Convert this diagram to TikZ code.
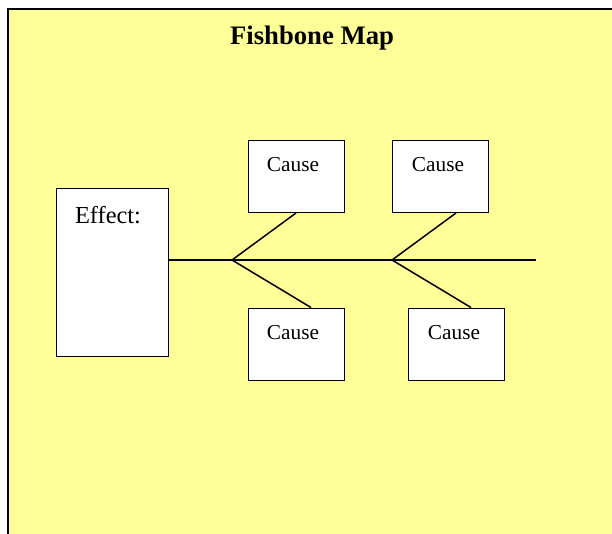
\documentclass[tikz,border=0pt]{standalone}
\usepackage{fontspec}
\setmainfont{Liberation Serif}
\definecolor{bgyellow}{HTML}{FFFF99}
\begin{document}
\begin{tikzpicture}[x=1pt,y=-1pt,
  box/.style={draw=black,fill=white,line width=1.5pt,inner sep=0pt,anchor=north west},
  bone/.style={draw=black,line width=1.5pt},
  lbl/.style={inner sep=0pt,font=\fontsize{21.3}{24}\selectfont}]
\useasboundingbox (0,0) rectangle (612,533);
\begin{scope}
\clip (0,0) rectangle (612,533);
\draw[fill=bgyellow,line width=2pt] (8,8.5) rectangle (630,560);
\end{scope}
\node[inner sep=0pt,font=\fontsize{26.7}{30}\selectfont\bfseries] (title) at (312,38.5) {Fishbone Map};
\node[box,minimum width=112pt,minimum height=168pt] (effect) at (55.5,187.5) {};
\node[inner sep=0pt,font=\fontsize{24.4}{28}\selectfont] (effectlbl) at (108,215) {Effect:};
\node[box,minimum width=96pt,minimum height=72pt] (c1) at (247.5,139.5) {};
\node[box,minimum width=96pt,minimum height=72pt] (c2) at (391.5,139.5) {};
\node[box,minimum width=96pt,minimum height=72pt] (c3) at (247.5,307.5) {};
\node[box,minimum width=96pt,minimum height=72pt] (c4) at (407.5,307.5) {};
\node[lbl] (l1) at (293,165) {Cause};
\node[lbl] (l2) at (438,165) {Cause};
\node[lbl] (l3) at (293,333) {Cause};
\node[lbl] (l4) at (454,333) {Cause};
\coordinate (v1) at (232,260);
\coordinate (v2) at (392,260);
\coordinate (tail) at (536,260);
\draw[bone] (effect.east |- v1) -- (v1) -- (v2) -- (tail);
\draw[bone] (v1) -- (c1.south west -| 296,0) (v1) -- (c3.north west -| 311,0);
\draw[bone] (v2) -- (c2.south west -| 456,0) (v2) -- (c4.north west -| 471,0);
\end{tikzpicture}
\end{document}
